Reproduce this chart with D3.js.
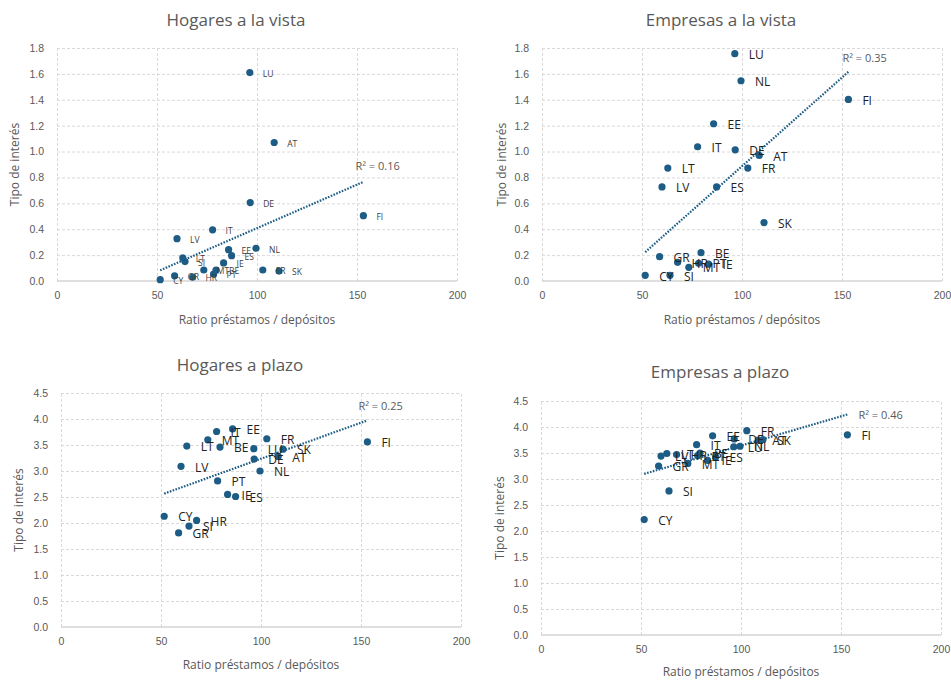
<!DOCTYPE html>
<html>
<head>
<meta charset="utf-8">
<script src="https://cdn.jsdelivr.net/npm/d3@7"></script>
<style>
  body { margin: 0; background: #fff; }
  svg { display: block; font-family: "Open Sans", "Noto Sans", sans-serif; }
</style>
</head>
<body>
<svg id="chart" width="951" height="682"></svg>
<script>
// countries and loan / deposit ratio (same x for the four panels)
var countries = ["AT","BE","CY","DE","EE","ES","FI","FR","GR","HR","IE","IT","LT","LU","LV","MT","NL","PT","SI","SK"];
var ratio     = [108.6, 79.5, 51.6, 96.6, 85.8, 87.3, 153.2, 102.9, 58.8, 67.8, 83.3, 77.8, 62.9, 96.4, 60.0, 73.4, 99.5, 78.3, 64.0, 111.0];

// interest rates
var hogaresVista  = [1.07, 0.085, 0.01, 0.606, 0.242, 0.196, 0.505, 0.085, 0.04, 0.03, 0.14, 0.395, 0.178, 1.61, 0.327, 0.085, 0.253, 0.054, 0.15, 0.077];
var empresasVista = [0.97, 0.219, 0.044, 1.013, 1.215, 0.727, 1.403, 0.872, 0.188, 0.144, 0.13, 1.037, 0.872, 1.756, 0.727, 0.106, 1.547, 0.137, 0.044, 0.451];
var hogaresPlazo  = [3.28, 3.46, 2.13, 3.23, 3.81, 2.51, 3.56, 3.62, 1.81, 2.05, 2.55, 3.76, 3.48, 3.43, 3.09, 3.60, 3.00, 2.81, 1.94, 3.42];
var empresasPlazo = [3.75, 3.50, 2.22, 3.77, 3.83, 3.42, 3.85, 3.93, 3.25, 3.47, 3.36, 3.66, 3.49, 3.62, 3.44, 3.30, 3.63, 3.45, 2.77, 3.76];

var xTicks = [0, 50, 100, 150, 200];
var yTicksVista = [0, 0.2, 0.4, 0.6, 0.8, 1.0, 1.2, 1.4, 1.6, 1.8];
var yTicksPlazo = [0, 0.5, 1.0, 1.5, 2.0, 2.5, 3.0, 3.5, 4.0, 4.5];

var titles = ["Hogares a la vista", "Empresas a la vista", "Hogares a plazo", "Empresas a plazo"];
var r2Labels = ["R\u00b2 = 0.16", "R\u00b2 = 0.35", "R\u00b2 = 0.25", "R\u00b2 = 0.46"];
var xTitle = "Ratio préstamos / depósitos";
var yTitle = "Tipo de interés";

var blue = "#1d5c85";
var grey = "#595959";

var svg = d3.select("#chart");

var panels = [
  { values: hogaresVista,  yTicks: yTicksVista, left: 57,  right: 457, top: 48,  bottom: 281, titleY: 26,  xTitleY: 324, yTitleX: 19,  labelSize: 8.5, labelColor: "#404040", labelDx: 13, r2dx: -8, r2dy: -12 },
  { values: empresasVista, yTicks: yTicksVista, left: 542, right: 942, top: 48,  bottom: 281, titleY: 26,  xTitleY: 324, yTitleX: 506, labelSize: 12,  labelColor: "#222", labelDx: 14, r2dx: -6, r2dy: -10 },
  { values: hogaresPlazo,  yTicks: yTicksPlazo, left: 61,  right: 461, top: 393, bottom: 627, titleY: 371, xTitleY: 669, yTitleX: 23,  labelSize: 12,  labelColor: "#222", labelDx: 14, r2dx: -9, r2dy: -10 },
  { values: empresasPlazo, yTicks: yTicksPlazo, left: 541, right: 941, top: 401, bottom: 635, titleY: 378, xTitleY: 676, yTitleX: 504, labelSize: 12,  labelColor: "#222", labelDx: 14, r2dx: 11, r2dy: 5 }
];

function drawPanel(p, i) {
  var x = d3.scaleLinear().domain([0, 200]).range([p.left, p.right]);
  var y = d3.scaleLinear().domain([0, d3.max(p.yTicks)]).range([p.bottom, p.top]);
  var g = svg.append("g");

  // dashed grid
  g.append("g")
    .attr("transform", "translate(" + p.left + ",0)")
    .call(d3.axisLeft(y).tickValues(p.yTicks.slice(1)).tickSize(-(p.right - p.left)).tickFormat(""))
    .call(function(s){ s.select(".domain").remove() })
    .selectAll("line").attr("stroke", "#d9d9d9").attr("stroke-dasharray", "3,2");
  g.append("g")
    .attr("transform", "translate(0," + p.bottom + ")")
    .call(d3.axisBottom(x).tickValues(xTicks).tickSize(-(p.bottom - p.top)).tickFormat(""))
    .call(function(s){ s.select(".domain").remove() })
    .selectAll("line").attr("stroke", "#d9d9d9").attr("stroke-dasharray", "3,2");

  // base line
  g.append("line")
    .attr("x1", p.left).attr("x2", p.right)
    .attr("y1", p.bottom).attr("y2", p.bottom)
    .attr("stroke", "#bfbfbf").attr("stroke-width", 1);

  // tick labels
  var xa = g.append("g")
    .attr("transform", "translate(0," + p.bottom + ")")
    .call(d3.axisBottom(x).tickValues(xTicks).tickSize(0).tickPadding(11));
  var ya = g.append("g")
    .attr("transform", "translate(" + p.left + ",0)")
    .call(d3.axisLeft(y).tickValues(p.yTicks).tickSize(0).tickPadding(13).tickFormat(d3.format(".1f")));
  [xa, ya].forEach(function(a){
    a.select(".domain").remove();
    a.selectAll("text").attr("fill", grey).style("font-size", "10.5px").style("font-family", "inherit");
  });

  // titles
  g.append("text")
    .attr("x", (p.left + p.right) / 2 - 21).attr("y", p.titleY)
    .attr("text-anchor", "middle").attr("fill", grey)
    .style("font-size", "17px")
    .text(titles[i]);
  g.append("text")
    .attr("x", (p.left + p.right) / 2).attr("y", p.xTitleY)
    .attr("text-anchor", "middle").attr("fill", grey)
    .style("font-size", "12px")
    .text(xTitle);
  g.append("text")
    .attr("transform", "translate(" + p.yTitleX + "," + (p.top + p.bottom) / 2 + ") rotate(-90)")
    .attr("text-anchor", "middle").attr("fill", grey)
    .style("font-size", "12px")
    .text(yTitle);

  var pts = countries.map(function(c, k){ return { c: c, x: ratio[k], y: p.values[k] } });

  // linear trend
  var mx = d3.mean(pts, function(d){ return d.x });
  var my = d3.mean(pts, function(d){ return d.y });
  var sxy = d3.sum(pts, function(d){ return (d.x - mx) * (d.y - my) });
  var sxx = d3.sum(pts, function(d){ return (d.x - mx) * (d.x - mx) });
  var slope = sxy / sxx, icpt = my - slope * mx;
  var x0 = d3.min(pts, function(d){ return d.x }), x1 = d3.max(pts, function(d){ return d.x });
  g.append("line")
    .attr("x1", x(x0)).attr("y1", y(icpt + slope * x0))
    .attr("x2", x(x1)).attr("y2", y(icpt + slope * x1))
    .attr("stroke", blue).attr("stroke-width", 2.2).attr("stroke-dasharray", "1.6,1.4");
  g.append("text")
    .attr("x", x(x1) + p.r2dx).attr("y", y(icpt + slope * x1) + p.r2dy)
    .attr("fill", grey).style("font-size", "11px")
    .text(r2Labels[i]);

  // points
  g.selectAll("circle").data(pts).enter().append("circle")
    .attr("cx", function(d){ return x(d.x) })
    .attr("cy", function(d){ return y(d.y) })
    .attr("r", 3.6)
    .attr("fill", blue);

  // data labels
  g.selectAll(".lbl").data(pts).enter().append("text")
    .attr("class", "lbl")
    .attr("x", function(d){ return x(d.x) + p.labelDx })
    .attr("y", function(d){ return y(d.y) + 2 })
    .attr("dominant-baseline", "middle")
    .attr("fill", p.labelColor)
    .style("font-size", p.labelSize + "px")
    .text(function(d){ return d.c });
}

panels.forEach(drawPanel);
</script>
</body>
</html>
